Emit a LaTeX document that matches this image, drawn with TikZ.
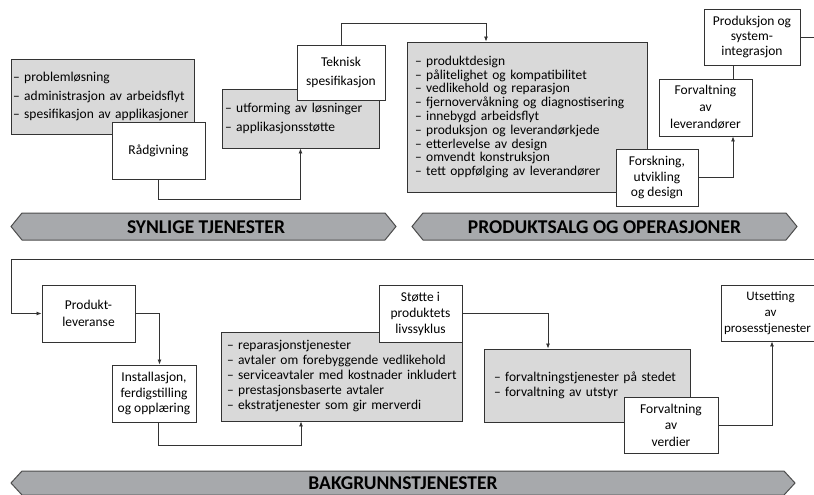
\documentclass[tikz,border=0pt]{standalone}
\usepackage{fontspec}
\setmainfont{Carlito}
\usetikzlibrary{arrows.meta,calc}
\definecolor{lc}{HTML}{333333}
\definecolor{gfill}{HTML}{D9D9D9}
\definecolor{bfill}{HTML}{A7A9AC}
\definecolor{bline}{HTML}{4D4D4D}
\newcommand\gline[1]{\mbox{– #1}}
\begin{document}
\begin{tikzpicture}[x=1pt,y=-1pt,
  box/.style={draw=lc, line width=0.9pt, fill=white, inner sep=0pt, align=center},
  gbox/.style={draw=lc, line width=0.9pt, fill=gfill, inner ysep=0pt, align=left},
  arr/.style={draw=lc, line width=0.8pt, -{Latex[length=5pt,width=4pt]}},
  ln/.style={draw=lc, line width=0.8pt},
  banner/.style={draw=bline, line width=1pt, fill=bfill},
  btext/.style={font=\fontsize{19.5}{20}\selectfont\bfseries, inner sep=0pt}
]
\clip (0,0) rectangle (814,495);
\useasboundingbox (0,0) rectangle (814,495);

% ---------- top row ----------
\node[gbox, minimum width=183pt, minimum height=75pt, inner xsep=2pt, text width=179pt,
  font=\fontsize{13.5}{18.7}\selectfont] (g1) at (102.5,96.5)
  {\gline{problemløsning}\\\gline{administrasjon av arbeidsflyt}\\\gline{spesifikasjon av applikasjoner}};
\node[box, minimum width=93pt, minimum height=57pt, font=\fontsize{13.5}{16}\selectfont] (rad) at (158.5,150.5) {Rådgivning};

\node[gbox, minimum width=157pt, minimum height=59pt, inner xsep=3pt, text width=151pt,
  font=\fontsize{13.5}{19}\selectfont] (g2) at (300.5,118.5)
  {\gline{utforming av løsninger}\\\gline{applikasjonsstøtte}};
\node[box, minimum width=88pt, minimum height=55pt, font=\fontsize{13.5}{19}\selectfont] (tek) at (341,72.5)
  {Teknisk\\spesifikasjon};

\node[gbox, minimum width=240pt, minimum height=150pt, inner xsep=8pt, text width=224pt,
  font=\fontsize{13.5}{13.8}\selectfont] (g3) at (527,117)
  {\gline{produktdesign}\\\gline{pålitelighet og kompatibilitet}\\\gline{vedlikehold og reparasjon}\\\gline{fjernovervåkning og diagnostisering}\\\gline{innebygd arbeidsflyt}\\\gline{produksjon og leverandørkjede}\\\gline{etterlevelse av design}\\\gline{omvendt konstruksjon}\\\gline{tett oppfølging av leverandører}};
\node[box, minimum width=82pt, minimum height=57pt, font=\fontsize{13.5}{15.5}\selectfont] (forsk) at (657,177.5)
  {Forskning,\\utvikling\\og design};
\node[box, minimum width=93pt, minimum height=57pt, font=\fontsize{13.5}{17}\selectfont] (forv) at (705.5,107.5)
  {Forvaltning\\av\\leverandører};
\node[box, minimum width=96pt, minimum height=56pt, font=\fontsize{13.5}{15}\selectfont] (prod) at (752,37)
  {Produksjon og\\system-\\integrasjon};

% top connectors
\draw[arr] (rad.south) -- ++(0,20) -| (g2.south);
\coordinate (t1) at (486,23);
\draw[arr] (tek.north) |- (t1) -- (t1 |- g3.north);
\coordinate (x733) at (733,0);
\draw[arr] (forsk.east) -| (forv.south -| x733);
\draw[ln] (forv.north -| x733) -- (prod.south -| x733);
\coordinate (e1) at (814,37);
\draw[ln] (prod.east) -- (e1);

% top banners
\draw[banner] (11,226.5) -- (22,213) -- (385,213) -- (396,226.5) -- (385,240) -- (22,240) -- cycle;
\node[btext] (b1) at (206,227) {SYNLIGE TJENESTER};
\draw[banner] (412,226.5) -- (423,213) -- (786,213) -- (797,226.5) -- (786,240) -- (423,240) -- cycle;
\node[btext] (b2) at (604.5,227) {PRODUKTSALG OG OPERASJONER};

% ---------- bottom row ----------
\node[box, minimum width=93pt, minimum height=57pt, font=\fontsize{13.5}{17}\selectfont] (pl) at (88.5,313.5)
  {Produkt-\\leveranse};
\node[box, minimum width=84pt, minimum height=57pt, font=\fontsize{13.5}{15.5}\selectfont] (inst) at (154,393.5)
  {Installasjon,\\ferdigstilling\\og opplæring};
\node[gbox, minimum width=241pt, minimum height=89pt, inner xsep=6pt, text width=229pt,
  font=\fontsize{13.5}{15}\selectfont] (g4) at (341.5,376.5)
  {\gline{reparasjonstjenester}\\\gline{avtaler om forebyggende vedlikehold}\\\gline{serviceavtaler med kostnader inkludert}\\\gline{prestasjonsbaserte avtaler}\\\gline{ekstratjenester som gir merverdi}};
\node[box, minimum width=83pt, minimum height=57pt, font=\fontsize{13.5}{16}\selectfont] (stotte) at (420.5,313.5)
  {Støtte i\\produktets\\livssyklus};
\node[gbox, minimum width=206pt, minimum height=73pt, inner xsep=10pt, text width=186pt,
  font=\fontsize{13.5}{15}\selectfont] (g5) at (587,385.5)
  {\gline{forvaltningstjenester på stedet}\\\gline{forvaltning av utstyr}};
\node[box, minimum width=94pt, minimum height=56pt, font=\fontsize{13.5}{16.5}\selectfont] (verd) at (671,425)
  {Forvaltning\\av\\verdier};
\node[box, minimum width=99pt, minimum height=56pt, font=\fontsize{13}{16}\selectfont] (uts) at (770.5,313)
  {Utsetting\\av\\\hspace*{-6pt}prosesstjenester};

% bottom connectors
\coordinate (e2) at (814,259);
\coordinate (l2) at (11,259);
\draw[arr] (e2) -- (l2) |- (pl.west);
\coordinate (x159) at (159.5,0);
\draw[arr] (pl.east) -| (inst.north -| x159);
\coordinate (x301) at (301,0);
\draw[arr] (inst.south -| 158,0) -- ++(0,23) -| (g4.south -| x301);
\coordinate (x548) at (548,0);
\draw[arr] (stotte.east) -| (g5.north -| x548);
\coordinate (x772) at (772,0);
\draw[arr] (verd.east) -| (uts.south -| x772);

% bottom banner
\draw[banner] (11,483) -- (22,471) -- (784,471) -- (795,483) -- (784,495) -- (22,495) -- cycle;
\node[btext] (b3) at (403,483) {BAKGRUNNSTJENESTER};
\end{tikzpicture}
\end{document}
